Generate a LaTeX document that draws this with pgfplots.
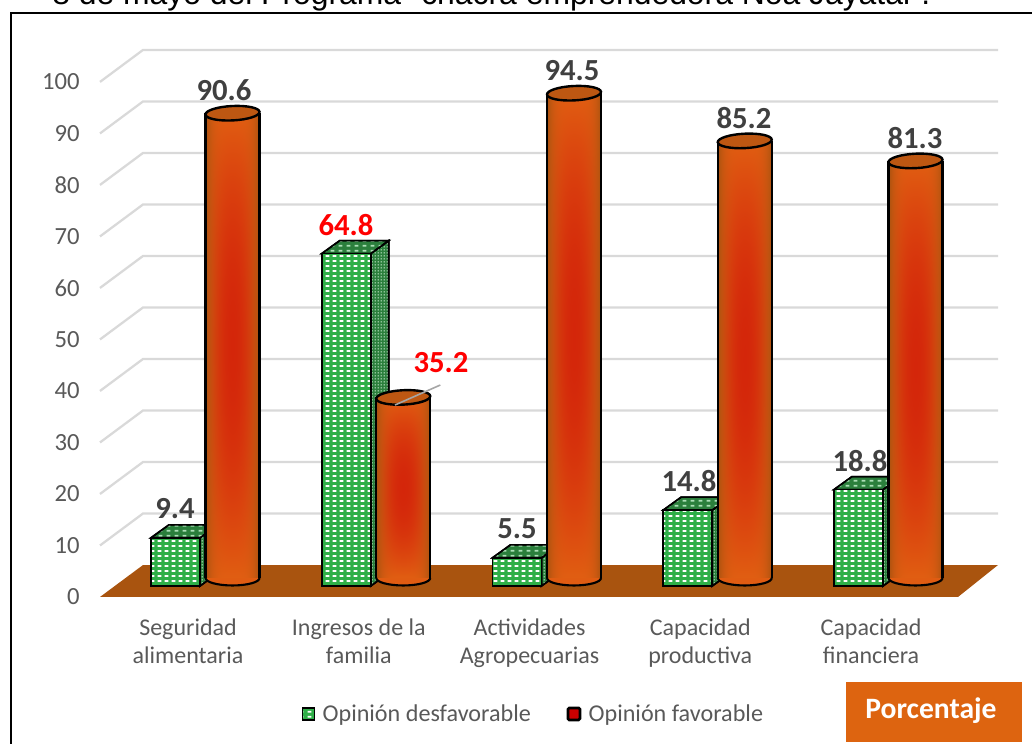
\documentclass[border=0pt]{standalone}
\usepackage{pgfplots}
\pgfplotsset{compat=1.18}
\usepackage{fontspec}
\usetikzlibrary{patterns}
\setmainfont{Carlito}
\newfontfamily\arialf{Liberation Sans}

\definecolor{gridc}{HTML}{D9D9D9}
\definecolor{floorc}{HTML}{A9540F}
\definecolor{grn}{HTML}{2FAF48}
\definecolor{grnd}{HTML}{2B7F3C}
\definecolor{lblc}{HTML}{404040}
\definecolor{tickc}{HTML}{595959}
\definecolor{orbox}{HTML}{DD6410}
\definecolor{captop}{HTML}{BD5712}
\definecolor{capbot}{HTML}{E05C12}

% dashes on the front of the green boxes
\pgfdeclarepatternformonly{frontdots}{\pgfqpoint{0pt}{0pt}}{\pgfqpoint{5.6pt}{3.75pt}}{\pgfqpoint{5.6pt}{3.75pt}}{
  \pgfpathrectangle{\pgfqpoint{1.3pt}{1.1pt}}{\pgfqpoint{3pt}{1.5pt}}
  \pgfusepath{fill}}
\pgfdeclarepatternformonly{sidedots}{\pgfqpoint{0pt}{0pt}}{\pgfqpoint{2.4pt}{2.4pt}}{\pgfqpoint{2.4pt}{2.4pt}}{
  \pgfpathrectangle{\pgfqpoint{.6pt}{.6pt}}{\pgfqpoint{1pt}{1pt}}
  \pgfusepath{fill}}

% cylinder body: red in the middle, orange at the ends, dark at the sides
% (the visible part of the 100bp square is 25..75)
\pgfdeclarefunctionalshading{cylbody}{\pgfpointorigin}{\pgfpoint{100bp}{100bp}}{}{
  50 sub 25 div dup mul exch 50 sub 25 div dup mul exch
  2 copy 1 exch sub exch 1 exch sub mul
  3 1 roll pop dup mul
  1 index -0.05 mul 0.88 add 1 index 1 exch sub mul 1 index 0.66 mul add 3 1 roll
  1 index -0.22 mul 0.37 add 1 index 1 exch sub mul 1 index 0.32 mul add 3 1 roll
  1 index -0.03 mul 0.07 add 1 index 1 exch sub mul 1 index 0.06 mul add 3 1 roll
  pop pop
}

\pgfdeclareplotmark{cyltop}{
  \pgfpathellipse{\pgfpointorigin}{\pgfqpoint{20.25pt}{1pt}}{\pgfqpoint{-.28pt}{5.4pt}}
  \pgfusepathqfillstroke}
% lower half only, marks come after the bodies
\pgfdeclareplotmark{cylbase}{
  \pgfpathmoveto{\pgfqpoint{-20.25pt}{0pt}}
  \pgfpatharc{180}{360}{20.25pt and 5.6pt}
  \pgfusepathqfillstroke}
% leader line that runs over the cap of 35.2
\pgfdeclareplotmark{leader}{
  \pgfpathmoveto{\pgfpointorigin}
  \pgfpathlineto{\pgfqpoint{34pt}{15pt}}
  \pgfusepathqstroke}

\pgfplotsset{
  frontface/.style={ybar, bar shift=-9.375pt, bar width=36.75pt, forget plot, draw=black, line width=1.4pt,
    fill=grn, postaction={pattern=frontdots, pattern color=white}},
  sideface/.style={forget plot, draw=black, line width=1.2pt, fill=grnd,
    postaction={pattern=sidedots, pattern color=white!70!grn}},
  topface/.style={forget plot, draw=black, line width=1.2pt, fill=grnd,
    postaction={pattern=frontdots, pattern color=white!60!grn}},
  cylface/.style={forget plot, ybar, yshift=6pt, bar shift=33.375pt, bar width=40.5pt, draw=none, shade, shading=cylbody},
  lab/.style 2 args={only marks, mark=none, forget plot, point meta=y, nodes near coords,
    every node near coord/.append style={anchor=center, font=\fontsize{23}{23}\selectfont\bfseries,
      text=#1, yshift=#2}},
}

\begin{document}
\begin{tikzpicture}
\useasboundingbox (0,0) rectangle (774pt,557.25pt);
\clip (0,0) rectangle (774pt,557.25pt);
\begin{scope}[x=.75pt,y=.75pt]
\node[anchor=base west, inner sep=0pt, font=\arialf\fontsize{23.9}{23.9}\selectfont] at (52,738.5)
  {8 de mayo del Programa "chacra emprendedora Ñoa Jayatai".};
\draw[black, line width=1.5pt] (11,-10) -- (11,729.5) -- (1040,729.5);
\end{scope}

\begin{axis}[
  at={(75pt,109.5pt)}, anchor=south west,
  scale only axis, width=675pt, height=417.75pt,
  xmin=-0.5154, xmax=4.7555, ymin=-2.144, ymax=106.43,
  clip=false,
  axis line style={draw=none}, tick style={draw=none},
  xtick pos=bottom, ytick pos=left,
  xtick={0,1,2,3,4},
  xticklabels={Seguridad\\alimentaria, Ingresos de la\\familia, Actividades\\Agropecuarias, Capacidad\\productiva, Capacidad\\financiera},
  xticklabel style={align=center, text=tickc, font=\fontsize{18}{21}\selectfont, yshift=-12.5pt},
  ytick={-2.14,7.90,17.94,27.98,38.02,48.06,58.10,68.14,78.18,88.22,98.26},
  yticklabels={0,10,20,30,40,50,60,70,80,90,100},
  yticklabel style={text=tickc, font=\fontsize{18.5}{18.5}\selectfont, inner sep=0pt, xshift=-15pt},
  /pgf/number format/assume math mode=true,
  /pgf/number format/fixed, /pgf/number format/fixed zerofill, /pgf/number format/precision=1,
  legend columns=2,
  legend cell align=left,
  legend style={at={(rel axis cs:0.2244,-0.21)}, anchor=west, draw=none, fill=none,
    font=\fontsize{18.1}{18.1}\selectfont, text=tickc, inner sep=0pt,
    /tikz/every odd column/.append style={column sep=3.5pt},
    /tikz/every even column/.append style={column sep=24.75pt}},
]
% wall and side grid
\addplot[forget plot, gridc, line width=1.7pt, unbounded coords=jump] table {
-0.5154 7.90
-0.2635 14.13
4.7438 14.13
nan nan
-0.5154 17.94
-0.2635 24.17
4.7438 24.17
nan nan
-0.5154 27.98
-0.2635 34.21
4.7438 34.21
nan nan
-0.5154 38.02
-0.2635 44.25
4.7438 44.25
nan nan
-0.5154 48.06
-0.2635 54.29
4.7438 54.29
nan nan
-0.5154 58.10
-0.2635 64.33
4.7438 64.33
nan nan
-0.5154 68.14
-0.2635 74.37
4.7438 74.37
nan nan
-0.5154 78.18
-0.2635 84.41
4.7438 84.41
nan nan
-0.5154 88.22
-0.2635 94.45
4.7438 94.45
nan nan
-0.5154 98.26
-0.2635 104.49
4.7438 104.49
};
% floor
\addplot[forget plot, draw=none, fill=floorc] coordinates {(-0.5154,-2.14) (4.5095,-2.14) (4.7438,4.09) (-0.2635,4.09)} -- cycle;

% green boxes: side, top, front
\addplot[sideface] coordinates {(0.0703,0) (0.1757,2.53) (0.1757,11.93) (0.0703,9.4)} -- cycle;
\addplot[sideface] coordinates {(1.0703,0) (1.1757,2.53) (1.1757,67.33) (1.0703,64.8)} -- cycle;
\addplot[sideface] coordinates {(2.0703,0) (2.1757,2.53) (2.1757,8.03) (2.0703,5.5)} -- cycle;
\addplot[sideface] coordinates {(3.0703,0) (3.1757,2.53) (3.1757,17.33) (3.0703,14.8)} -- cycle;
\addplot[sideface] coordinates {(4.0703,0) (4.1757,2.53) (4.1757,21.33) (4.0703,18.8)} -- cycle;
\addplot[topface] coordinates {(-0.2167,9.4) (-0.1113,11.93) (0.1757,11.93) (0.0703,9.4)} -- cycle;
\addplot[topface] coordinates {(0.7833,64.8) (0.8887,67.33) (1.1757,67.33) (1.0703,64.8)} -- cycle;
\addplot[topface] coordinates {(1.7833,5.5) (1.8887,8.03) (2.1757,8.03) (2.0703,5.5)} -- cycle;
\addplot[topface] coordinates {(2.7833,14.8) (2.8887,17.33) (3.1757,17.33) (3.0703,14.8)} -- cycle;
\addplot[topface] coordinates {(3.7833,18.8) (3.8887,21.33) (4.1757,21.33) (4.0703,18.8)} -- cycle;
\addplot[frontface] coordinates {(0,9.4) (1,64.8) (2,5.5) (3,14.8) (4,18.8)};

% cylinders: body (one plot each, so each gets its own shading), base, sides, cap
\addplot[cylface] coordinates {(0,90.6)};
\addplot[cylface] coordinates {(1,35.2)};
\addplot[cylface] coordinates {(2,94.5)};
\addplot[cylface] coordinates {(3,85.2)};
\addplot[cylface] coordinates {(4,81.3)};
\addplot[forget plot, only marks, yshift=6pt, mark=cylbase,
  mark options={draw=black, fill=capbot, line width=1.6pt}]
  coordinates {(0.2606,0) (1.2606,0) (2.2606,0) (3.2606,0) (4.2606,0)};
\addplot[forget plot, ycomb, yshift=6pt, black, line width=1.6pt, mark=none]
  coordinates {(0.1025,90.6) (1.1025,35.2) (2.1025,94.5) (3.1025,85.2) (4.1025,81.3)
               (0.4187,90.6) (1.4187,35.2) (2.4187,94.5) (3.4187,85.2) (4.4187,81.3)};
\addplot[forget plot, only marks, yshift=6pt, mark=cyltop,
  mark options={draw=black, fill=captop, line width=1.8pt}]
  coordinates {(0.2606,90.6) (1.2606,35.2) (2.2606,94.5) (3.2606,85.2) (4.2606,81.3)};

% leader line of 35.2
\addplot[forget plot, only marks, mark=leader, mark options={draw=black!35, line width=1.2pt}]
  coordinates {(1.2123,35.28)};

% value labels
\addplot[lab={lblc}{21.75pt}] coordinates {(-0.0761,9.4) (1.9268,5.5) (2.934,14.8) (3.9356,18.8)};
\addplot[lab={red}{21.75pt}] coordinates {(0.9253,64.8)};
\addplot[lab={lblc}{23.25pt}] coordinates {(0.2108,90.6) (2.2489,94.5) (3.2562,85.2) (4.2577,81.3)};
\addplot[lab={red}{31.8pt}] coordinates {(1.4817,35.2)};

% legend
\addlegendimage{legend image code/.code={
  \draw[black, line width=.8pt, fill=grn, postaction={pattern=frontdots, pattern color=white}] (0pt,-4.5pt) rectangle (9pt,4.5pt);}}
\addlegendentry{Opinión desfavorable}
\addlegendimage{legend image code/.code={
  \draw[black, line width=2pt, rounded corners=1pt, fill=red!80!black] (0pt,-4.5pt) rectangle (9pt,4.5pt);}}
\addlegendentry{Opinión favorable}
\end{axis}

\begin{scope}[x=.75pt,y=.75pt]
\fill[orbox] (846,1) rectangle (1022,61);
\node[text=white, font=\fontsize{22.2}{22.2}\selectfont\bfseries] at (931,32) {Porcentaje};
\end{scope}
\end{tikzpicture}
\end{document}
